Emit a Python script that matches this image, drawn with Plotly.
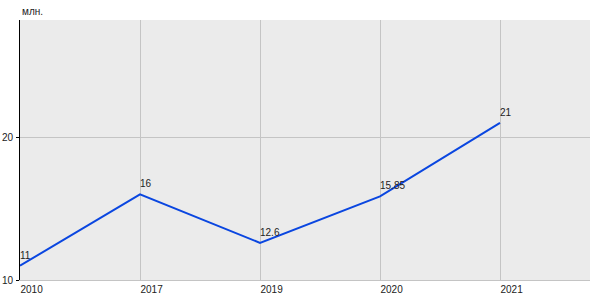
import plotly.graph_objects as go

years = ["2010", "2017", "2019", "2020", "2021"]
values = [11, 16, 12.6, 15.85, 21]
labels = ["11", "16", "12.6", "15.85", "21"]
unit = "млн."

xs = list(range(len(years)))

fig = go.Figure()
fig.add_trace(go.Scatter(x=xs, y=values, mode="lines",
                         line=dict(color="#0a46e0", width=2), hoverinfo="skip"))

for x, y, t in zip(xs, values, labels):
    fig.add_annotation(x=x, y=y, text=t, showarrow=False, xanchor="left", yanchor="bottom",
                       xshift=-2, yshift=3, font=dict(size=10, color="#222"))

fig.add_annotation(x=0, y=1, xref="paper", yref="paper", text=unit, showarrow=False,
                   xanchor="left", yanchor="bottom", yshift=1, font=dict(size=10, color="#222"))

fig.update_layout(
    width=600, height=300,
    margin=dict(l=20, r=10, t=20, b=20),
    paper_bgcolor="white", plot_bgcolor="#ebebeb",
    font=dict(family="Liberation Sans, Arial", size=10, color="#222"),
    showlegend=False,
)
fig.update_xaxes(range=[0, 4.75], tickmode="array", tickvals=xs, ticktext=years,
                 ticklabelposition="outside right", showgrid=True, gridcolor="#c4c4c4",
                 gridwidth=1, zeroline=False, showline=True, linecolor="#c4c4c4",
                 ticks="", fixedrange=True, automargin=False)
fig.update_yaxes(range=[10, 28.2], tickvals=[10, 20], showgrid=True, gridcolor="#c4c4c4",
                 zeroline=False, showline=True, linecolor="black", linewidth=1,
                 ticks="outside", ticklen=3, tickcolor="black", ticklabelstandoff=1,
                 automargin=False)

fig.write_html("out.html")
